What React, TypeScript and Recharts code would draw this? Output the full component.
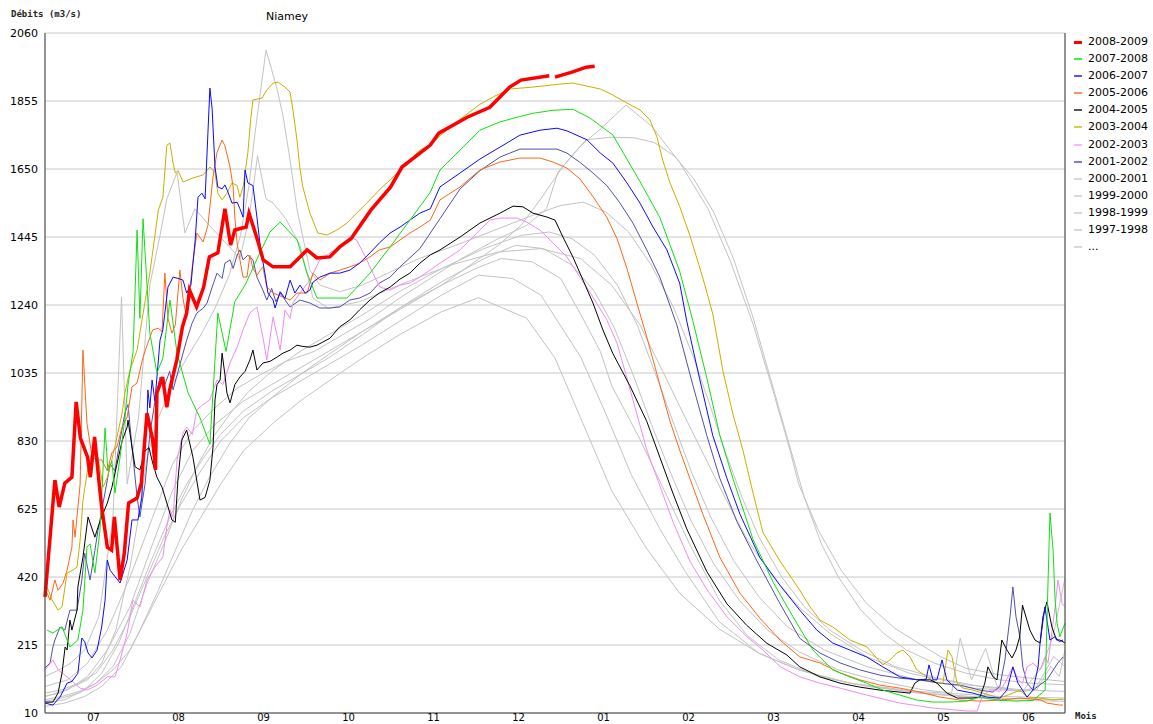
import React from "react";
import { CartesianGrid, Line, LineChart, XAxis, YAxis } from "recharts";

// day of hydrological year (30-day months, 0 = 1 July) / discharge m3/s
type Pt = [number, number | null];

const monthLabels = ["07", "08", "09", "10", "11", "12", "01", "02", "03", "04", "05", "06"];
const monthBounds = [0, 30, 60, 90, 120, 150, 180, 210, 240, 270, 300, 330, 360];
const monthMids = [15, 45, 75, 105, 135, 165, 195, 225, 255, 285, 315, 345];
const yTicks = [10, 215, 420, 625, 830, 1035, 1240, 1445, 1650, 1855, 2060];

const q2008: Pt[] = [
  [0, 360], [3.5, 712], [5, 631], [7, 703], [9.5, 721], [11, 948], [12.5, 839], [15, 782], [16, 721],
  [17.5, 842], [19, 712], [20, 631], [22, 510], [23.5, 501], [24.5, 601], [26.5, 411], [28, 492],
  [29.5, 643], [32.5, 658], [34, 703], [36, 914], [38, 833], [39, 743], [39.5, 975], [41.5, 1023],
  [43, 932], [44, 984], [46.5, 1074], [48.5, 1174], [50, 1216], [51, 1285], [53.5, 1234], [56, 1294],
  [58, 1385], [61, 1397], [63.5, 1530], [65.5, 1421], [67, 1466], [71, 1475], [72, 1517], [75, 1436],
  [77, 1376], [80.5, 1355], [86.5, 1355], [92.5, 1406], [96, 1382], [100.5, 1385], [104, 1415],
  [108, 1440], [115, 1526], [122, 1596], [126, 1656], [136, 1722], [139, 1758], [149, 1806],
  [157, 1836], [164, 1897], [168, 1918], [178, 1931], [179, null], [180, 1927], [186, 1942],
  [191, 1957], [194, 1960],
];

const q2007: Pt[] = [
  [0.7, 260], [2.8, 251], [6, 270], [8.8, 209], [11.6, 230], [13.4, 320], [14.8, 510], [15.9, 520],
  [17.6, 432], [19.4, 560], [21.2, 869], [22.2, 740], [23.6, 770], [24.7, 673], [26.5, 782], [28.2, 900],
  [29.3, 1000], [31.1, 1100], [32.5, 1466], [33.5, 1200], [34.6, 1500], [36, 1300], [37, 1156],
  [39.5, 1035], [41.6, 1080], [44.1, 1255], [46.6, 1095], [50.5, 975], [54.7, 900], [58.2, 820],
  [61, 1216], [63.9, 1100], [67, 1250], [70.6, 1300], [76, 1400], [79.4, 1460], [83, 1490], [89, 1436],
  [92.5, 1336], [96, 1261], [106.6, 1261], [114.7, 1336], [121.8, 1415], [128.8, 1496], [136, 1580],
  [139.4, 1647], [146.5, 1707], [153.5, 1767], [160.6, 1792], [166.6, 1806], [172.2, 1818],
  [179.3, 1827], [186.3, 1830], [192.3, 1804], [200.4, 1753], [210, 1612], [217, 1504], [224, 1342],
  [228.7, 1191], [233.6, 1019], [238.2, 846], [242.8, 717], [249.9, 533], [257, 404], [264, 300],
  [271, 200], [278, 140], [284, 119], [290, 100], [295.7, 79], [301.7, 64], [307.7, 49], [313.4, 43],
  [319.4, 43], [325.4, 46], [330, 58], [337, 48], [343, 46], [348.7, 48], [353, 79], [354, 402],
  [354.7, 613], [355.8, 500], [356.5, 351], [357.2, 281], [358.2, 240], [360, 281],
];

const q2006: Pt[] = [
  [0, 40], [2.8, 34], [5.3, 58], [7.8, 100], [9.5, 105], [11.6, 130], [13, 236], [14, 225], [15.2, 191],
  [16.6, 176], [18.4, 200], [20, 269], [21.2, 350], [22, 471], [23, 440], [26.5, 402], [29, 471],
  [30.7, 592], [32.8, 592], [34.2, 661], [34.6, 773], [36, 884], [36.3, 984], [37, 930], [37.8, 1014],
  [38.8, 950], [40.6, 1134], [41.6, 1165], [43.4, 1294], [45.2, 1324], [47, 1320], [48.7, 1315],
  [50, 1276], [51.5, 1300], [53, 1436], [54, 1565], [55.4, 1577], [56.5, 1560], [57.5, 1758],
  [58.2, 1894], [59, 1830], [59.3, 1776], [60, 1656], [61, 1596], [62.5, 1590], [63.5, 1602],
  [64.6, 1580], [66, 1547], [67.8, 1550], [68.8, 1530], [69.9, 1505], [70.6, 1647], [71.6, 1608],
  [73.4, 1600], [74.8, 1505], [76, 1415], [77.6, 1336], [78.7, 1276], [80.5, 1255], [81.2, 1231],
  [83, 1280], [84.7, 1260], [86.5, 1315], [88.2, 1276], [90, 1300], [91.8, 1276], [93.5, 1285],
  [94.6, 1309], [97, 1324], [100.6, 1336], [104, 1336], [107.6, 1345], [111, 1366], [114.7, 1397],
  [118, 1427], [121.8, 1457], [125.3, 1475], [128.8, 1496], [132.3, 1517], [136, 1530], [139.4, 1596],
  [146.5, 1638], [153.5, 1680], [160.6, 1716], [167.6, 1752], [174.7, 1767], [180.7, 1773],
  [184.2, 1765], [191.3, 1738], [196, 1698], [200.4, 1668], [205.4, 1608], [210, 1547], [214.6, 1475],
  [219.5, 1406], [224, 1306], [226.5, 1191], [231, 1019], [235.7, 846], [240.7, 717], [245.3, 609],
  [252.3, 479], [259.4, 395], [266.4, 320], [272.4, 260], [278, 221], [284, 200], [290, 179],
  [295.7, 149], [301.7, 119], [307.7, 110], [311, 112], [312, 155], [313.4, 110], [314.8, 110],
  [316.6, 170], [318.3, 110], [322, 79], [327.5, 70], [332.4, 58], [337, 55], [339.5, 79], [341.6, 149],
  [343.4, 100], [346.6, 58], [348.7, 79], [350.5, 149], [351.2, 221], [352.9, 330], [354.7, 230],
  [356.5, 240], [358, 225], [359.3, 230],
];

const q2005: Pt[] = [
  [0.7, 372], [1.8, 350], [3.5, 411], [4.6, 380], [6.4, 402], [7.8, 441], [9.5, 510], [9.9, 592],
  [10.6, 540], [12.4, 700], [13.4, 1104], [14.8, 884], [16.6, 782], [18.4, 773], [20, 773], [22, 740],
  [23.6, 794], [25.4, 812], [27.2, 872], [29, 902], [30.7, 993], [32.5, 1005], [34.6, 1083],
  [36.3, 1125], [38, 1165], [40, 1170], [41.3, 1160], [42.3, 1336], [43.4, 1200], [44.8, 1155],
  [46, 1180], [47.6, 1345], [48.7, 1260], [50, 1200], [51.9, 1350], [53.6, 1457], [55.8, 1430],
  [57.5, 1480], [59.3, 1626], [60.7, 1700], [62.5, 1737], [63.5, 1720], [65.3, 1656], [66.4, 1596],
  [67, 1505], [67.8, 1427], [68.8, 1376], [69.9, 1324], [71.3, 1324], [72.3, 1390], [73.4, 1350],
  [74.8, 1330], [76.9, 1355], [78.3, 1294], [80.5, 1276], [84, 1264], [86.5, 1255], [88.9, 1276],
  [92.5, 1276], [94.6, 1336], [97, 1315], [100.6, 1336], [104, 1345], [107.6, 1355], [111, 1366],
  [114.7, 1385], [118, 1406], [121.8, 1415], [125.3, 1436], [128.8, 1457], [132.3, 1475], [136, 1496],
  [139.4, 1557], [146.5, 1596], [153.5, 1647], [160.6, 1671], [167.6, 1683], [174.7, 1683],
  [179.3, 1671], [184.2, 1653], [188.8, 1620], [193.4, 1567], [198.3, 1504], [201.9, 1440],
  [205.4, 1350], [208.9, 1246], [212.4, 1143], [217, 1000], [220.6, 889], [224, 803], [227.6, 717],
  [232.2, 609], [238.2, 479], [245.3, 371], [252.3, 296], [259.4, 230], [266.4, 179], [273.5, 161],
  [280.6, 131], [287.6, 110], [294.7, 94], [301.7, 85], [308.8, 73], [315.9, 58], [322.9, 49], [330, 46],
  [337, 49], [344, 55], [351.2, 50], [353.6, 40], [358, 34], [359.3, 34],
];

const q2004: Pt[] = [
  [0, 43], [2.8, 43], [4.6, 70], [6, 130], [7.1, 209], [7.8, 200], [8.8, 290], [9.5, 260], [11.3, 320],
  [11.6, 390], [13.4, 480], [15.2, 601], [17.6, 540], [18.7, 570], [20, 601], [22, 643], [23.6, 690],
  [25.4, 760], [27.2, 830], [29, 872], [29.3, 893], [30.7, 812], [31.8, 752], [33.5, 743], [35.3, 800],
  [36.7, 810], [38, 764], [39.5, 721], [41.3, 691], [43, 643], [44.8, 592], [46, 585], [46.9, 712],
  [48.3, 833], [50, 863], [52.2, 782], [54.7, 652], [56.5, 660], [58.2, 712], [59.3, 812], [60, 954],
  [60.7, 1000], [61.8, 1014], [62.5, 1095], [63.5, 1030], [64.2, 975], [65.3, 945], [67, 1000],
  [68.8, 1023], [70.6, 1040], [72.3, 1074], [73.4, 1104], [74.8, 1044], [76.9, 1065], [79.4, 1070],
  [81.9, 1083], [84, 1095], [86.5, 1104], [88.9, 1119], [91, 1115], [93.5, 1113], [96, 1119],
  [98, 1128], [100.6, 1140], [104, 1174], [107.6, 1195], [111, 1225], [114.7, 1255], [118, 1276],
  [121.8, 1294], [125.3, 1318], [128.8, 1336], [132.3, 1366], [136, 1391], [139.4, 1406],
  [146.5, 1445], [153.5, 1487], [160.6, 1517], [165.2, 1538], [168.7, 1536], [172.2, 1517],
  [177.2, 1505], [180, 1496], [182.8, 1445], [186.3, 1385], [189.9, 1315], [193.4, 1246],
  [196.9, 1165], [200.4, 1094], [206.4, 997], [212.4, 889], [217, 781], [221.6, 673], [226.5, 565],
  [233.6, 436], [240.7, 339], [247.7, 274], [254.8, 220], [261.8, 185], [266.4, 149], [273.5, 119],
  [280.6, 100], [287.6, 88], [294.7, 79], [301.7, 73], [305.3, 70], [307, 100], [308.8, 110],
  [312.4, 110], [314.8, 100], [318.3, 70], [322, 55], [327.5, 55], [330, 58], [331.7, 100], [332.8, 149],
  [334.6, 119], [336, 110], [337.7, 230], [339.5, 200], [341.3, 176], [342.7, 200], [344, 239],
  [345, 335], [347.6, 260], [349.4, 230], [351.2, 221], [352.2, 299], [353.6, 345], [355.4, 269],
  [357, 230], [358.2, 230], [360, 221],
];

const q2003: Pt[] = [
  [0.7, 390], [2.5, 351], [4.6, 320], [6, 330], [7.8, 432], [9.9, 441], [11.3, 450], [12.4, 531],
  [13.4, 652], [15.2, 752], [16.9, 803], [18.7, 780], [20.5, 691], [22, 720], [23.6, 773], [25.4, 842],
  [27.2, 914], [28.2, 975], [30, 1044], [32.5, 1104], [35.3, 1250], [37, 1336], [38.8, 1450],
  [40, 1526], [41.6, 1565], [43, 1722], [44.1, 1728], [45.2, 1668], [46, 1638], [47, 1645],
  [48.7, 1611], [52.2, 1623], [55.8, 1632], [58.2, 1656], [60, 1640], [61, 1577], [62.5, 1557],
  [64.2, 1577], [66, 1608], [67.8, 1600], [68.8, 1565], [70, 1600], [71.6, 1700], [72.6, 1800],
  [73.4, 1858], [76.6, 1864], [78.3, 1888], [80.5, 1909], [82.2, 1912], [84.7, 1897], [86.5, 1882],
  [87.5, 1828], [88.9, 1740], [90, 1650], [91, 1596], [93.5, 1517], [96.3, 1457], [99.5, 1451],
  [103, 1466], [106.6, 1487], [110, 1517], [114.7, 1557], [118, 1587], [121.8, 1617], [125.3, 1647],
  [128.8, 1677], [132.3, 1707], [136, 1722], [139.4, 1750], [146.5, 1800], [153.5, 1845],
  [158.8, 1870], [164, 1891], [172.2, 1897], [181.7, 1906], [186.3, 1909], [191.3, 1900], [196, 1891],
  [200.4, 1873], [205.4, 1849], [210, 1828], [213.5, 1798], [216, 1746], [218, 1677], [220.6, 1608],
  [224, 1537], [227.6, 1450], [232.2, 1321], [235.7, 1213], [239.3, 1040], [242.8, 911], [246.3, 803],
  [249.9, 673], [253.4, 554], [259.4, 468], [266.4, 380], [270, 330], [273.5, 290], [278.1, 269],
  [284.1, 230], [290.1, 209], [295.7, 155], [298.2, 170], [300.7, 191], [302.8, 200], [305.3, 179],
  [307.7, 140], [311.3, 119], [314.8, 100], [316.9, 100], [318.7, 200], [320.1, 180], [321.9, 100],
  [324, 85], [327.5, 79], [337, 55], [341.6, 70], [344.1, 79], [346.6, 58], [351.2, 55], [355.8, 49],
  [359.3, 52],
];

const q2002: Pt[] = [
  [0, 140], [1, 150], [2.8, 170], [4.6, 140], [7.8, 119], [12.4, 85], [14.8, 79], [18.4, 94], [22, 119],
  [24.7, 119], [26.5, 170], [29, 251], [31, 350], [33.5, 330], [36, 411], [38.8, 450], [41.6, 480],
  [43, 571], [44.1, 622], [45.2, 600], [46.6, 773], [48.7, 854], [50, 872], [52, 850], [53.6, 924],
  [55.8, 940], [58.2, 954], [60.7, 1014], [62.8, 1000], [65.3, 1065], [67.8, 1113], [69.9, 1165],
  [72.3, 1216], [74.8, 1234], [76.9, 1143], [78.3, 1074], [80.5, 1204], [83, 1104], [84.7, 1225],
  [86.5, 1200], [87.5, 1246], [90, 1276], [93.5, 1315], [97, 1376], [100.6, 1397], [104, 1415],
  [107.6, 1445], [110, 1436], [113.6, 1376], [115.7, 1336], [118.2, 1294], [121.8, 1285],
  [125.3, 1300], [128.8, 1306], [132.3, 1324], [139.4, 1366], [146.5, 1406], [153.5, 1466],
  [157, 1496], [160.6, 1502], [166.6, 1502], [170, 1490], [174.7, 1466], [179.3, 1427], [184.2, 1385],
  [188.8, 1324], [193.4, 1264], [198.3, 1195], [201.9, 1125], [205.4, 1019], [208.9, 911],
  [212.4, 803], [217, 695], [221.6, 587], [227.6, 468], [233.6, 382], [240.7, 300], [247.7, 240],
  [253.4, 200], [259.4, 150], [266.4, 119], [273.5, 100], [280.6, 85], [290, 64], [301.7, 40],
  [313.4, 25], [325.4, 16], [329, 16], [330.7, 58], [333.5, 80], [337, 75], [338.8, 100], [341.6, 149],
  [343.4, 110], [345, 100], [346.6, 149], [348.7, 160], [351.2, 140], [353, 180], [354, 160],
  [356.5, 330], [357.5, 411], [359, 340], [360, 330],
];

const q2001: Pt[] = [
  [0, 146], [1.8, 161], [2.8, 209], [3.5, 230], [5.3, 269], [7, 260], [8.8, 320], [11.3, 320],
  [13, 411], [14, 492], [15.9, 411], [17.6, 500], [18.7, 560], [20, 620], [22, 712], [23, 760],
  [24.7, 740], [26.5, 833], [28.2, 914], [29.3, 940], [30.7, 812], [32.5, 661], [33.5, 601], [35.3, 700],
  [37, 850], [38.8, 950], [40.6, 1023], [42.3, 1000], [44, 1040], [45.2, 984], [47.6, 1060], [50, 1134],
  [51.9, 1185], [53.6, 1216], [55.8, 1230], [57.2, 1246], [59, 1294], [60.7, 1336], [62.5, 1320],
  [63.5, 1366], [65.3, 1376], [66.4, 1350], [67.8, 1390], [68.8, 1406], [69.9, 1376], [71.6, 1390],
  [73.4, 1376], [74.8, 1324], [76.9, 1285], [78.3, 1255], [80, 1290], [81.5, 1250], [83, 1276],
  [86.5, 1234], [90, 1255], [93.5, 1246], [97, 1231], [100.6, 1231], [104, 1234], [107.6, 1255],
  [111, 1261], [114.7, 1276], [118, 1306], [121.8, 1324], [125.3, 1355], [132.3, 1410], [139.4, 1500],
  [146.5, 1590], [153.5, 1645], [160.6, 1686], [167.6, 1710], [174.7, 1710], [180.7, 1710],
  [184.2, 1698], [188.8, 1670], [193.4, 1638], [198.3, 1600], [202.9, 1548], [207.5, 1487],
  [212.4, 1406], [217, 1324], [223, 1180], [228.7, 997], [233.6, 846], [238.2, 717], [244.2, 587],
  [251.3, 468], [259.4, 340], [266.4, 235], [273.5, 191], [280.6, 161], [287.6, 140], [294.7, 124],
  [301.7, 115], [308.8, 110], [315.9, 100], [322.9, 94], [330, 79], [334.6, 73], [337, 90],
  [338.8, 170], [340.6, 300], [341.6, 390], [342.7, 300], [344.1, 239], [345.1, 149], [346.6, 100],
  [348.7, 79], [351.2, 95], [353.6, 110], [357.5, 161], [359.3, 179],
];

const q2000: Pt[] = [
  [0, 90], [8, 110], [15, 160], [22, 260], [30, 420], [38, 600], [45, 760], [52, 860], [60, 930],
  [68, 990], [76, 1030], [85, 1070], [95, 1100], [105, 1150], [115, 1200], [125, 1260], [136, 1320],
  [147, 1380], [160, 1440], [170, 1480], [177, 1530], [181, 1640], [189, 1720], [196, 1770],
  [205, 1843], [214, 1780], [224, 1670], [234, 1530], [242, 1370], [250, 1180], [257, 980], [263, 800],
  [266, 700], [273, 560], [281, 440], [290, 340], [300, 265], [308, 222], [316, 180], [325, 145],
  [337, 125], [348, 115], [360, 105],
];

const q1999: Pt[] = [
  [0, 60], [8, 80], [15, 120], [22, 200], [30, 330], [38, 520], [45, 680], [52, 800], [60, 880],
  [70, 950], [80, 1000], [90, 1050], [100, 1100], [110, 1150], [120, 1200], [130, 1250], [140, 1300],
  [150, 1360], [160, 1420], [168, 1480], [175, 1560], [183, 1660], [191, 1738], [200, 1746],
  [208, 1744], [215, 1730], [222, 1690], [229, 1620], [236, 1520], [243, 1380], [250, 1200],
  [256, 1020], [262, 840], [268, 660], [274, 520], [280, 420], [288, 320], [296, 250], [304, 200],
  [314, 160], [325, 130], [337, 110], [348, 100], [360, 95],
];

const q1998: Pt[] = [
  [0, 60], [5, 70], [10, 90], [15, 110], [20, 160], [25, 260], [30, 450], [33, 600], [36, 780],
  [40, 900], [45, 1000], [50, 1080], [55, 1150], [60, 1230], [65, 1330], [69, 1450], [72, 1600],
  [74, 1750], [76, 1880], [78, 2009], [80, 1950], [82, 1888], [84, 1810], [86.5, 1677], [89, 1526],
  [91, 1445], [93.5, 1345], [97, 1300], [104, 1280], [112, 1300], [122, 1340], [132, 1380],
  [145, 1420], [160, 1470], [172, 1510], [182, 1540], [190, 1550], [198, 1520], [206, 1460],
  [214, 1360], [222, 1230], [229, 1080], [235, 930], [240, 800], [246, 660], [252, 540], [260, 420],
  [268, 330], [277, 260], [288, 200], [300, 150], [315, 115], [330, 90], [345, 75], [350, 80],
  [355, 150], [358, 120], [360, 200],
];

const q1997: Pt[] = [
  [0, 120], [5, 140], [9, 160], [14, 200], [19, 300], [24, 600], [27, 1264], [29, 700], [33, 900],
  [37, 1300], [40.6, 1450], [43, 1560], [46.6, 1640], [49.4, 1457], [52.9, 1530], [58, 1480],
  [63.5, 1430], [68.8, 1380], [72, 1500], [75, 1690], [78, 1560], [80.5, 1547], [85, 1500], [90, 1420],
  [94.6, 1260], [100, 1230], [111, 1250], [125, 1300], [143, 1360], [160, 1400], [175, 1410],
  [189, 1380], [200, 1300], [210, 1180], [218, 1040], [226, 900], [233, 780], [240, 660], [248, 530],
  [257, 420], [266, 330], [277, 250], [290, 180], [305, 130], [325, 95], [345, 80], [360, 75],
];

const qOlderA: Pt[] = [
  [0, 50], [6, 60], [12, 75], [18, 100], [24, 150], [30, 250], [36, 400], [42, 520], [48, 650],
  [54, 760], [60, 850], [66, 920], [72, 980], [80, 1040], [90, 1100], [100, 1150], [112, 1210],
  [125, 1280], [140, 1350], [155, 1410], [168, 1450], [178, 1460], [186, 1440], [194, 1390],
  [202, 1300], [209, 1180], [216, 1020], [222, 880], [228, 740], [235, 600], [243, 470], [252, 360],
  [262, 270], [275, 200], [290, 150], [308, 110], [328, 85], [345, 75], [350, 90], [356, 180],
  [360, 150],
];

const qOlderB: Pt[] = [
  [0, 40], [7, 50], [14, 80], [20, 130], [26, 220], [32, 350], [38, 480], [44, 600], [50, 700],
  [56, 780], [62, 850], [70, 920], [80, 980], [90, 1030], [100, 1080], [112, 1150], [125, 1230],
  [140, 1310], [155, 1380], [166, 1420], [176, 1410], [186, 1360], [194, 1280], [201, 1170],
  [208, 1020], [214, 880], [221, 730], [228, 590], [236, 460], [245, 350], [255, 260], [266, 195],
  [280, 140], [295, 105], [310, 80], [320, 70], [323, 236], [327, 110], [332, 205], [336, 90],
  [345, 75], [352, 150], [356, 250], [360, 417],
];

const qOlderC: Pt[] = [
  [0, 30], [7, 40], [14, 60], [20, 90], [27, 150], [33, 250], [40, 380], [46, 500], [52, 620],
  [58, 720], [65, 820], [72, 900], [80, 960], [90, 1030], [100, 1090], [112, 1160], [125, 1230],
  [140, 1300], [152, 1350], [161, 1380], [172, 1370], [182, 1320], [189, 1213], [196, 1100],
  [200, 997], [210, 835], [219, 673], [228, 511], [238, 350], [248, 242], [259, 170], [273, 120],
  [290, 90], [310, 70], [335, 55], [360, 50],
];

const qOlderD: Pt[] = [
  [0, 70], [6, 80], [12, 100], [18, 130], [24, 200], [30, 300], [36, 420], [42, 540], [48, 640],
  [55, 740], [62, 830], [70, 900], [80, 960], [90, 1010], [100, 1060], [112, 1120], [125, 1190],
  [140, 1270], [153, 1330], [165, 1320], [175, 1270], [189, 1084], [198, 911], [207, 727], [217, 565],
  [226, 436], [238, 285], [252, 190], [266, 140], [284, 100], [308, 75], [337, 60], [360, 55],
];

const qOlderE: Pt[] = [
  [0, 45], [6, 55], [12, 70], [18, 100], [24, 140], [30, 200], [36, 300], [42, 400], [48, 500],
  [55, 600], [62, 700], [70, 800], [80, 880], [90, 950], [100, 1010], [112, 1080], [125, 1150],
  [140, 1220], [153, 1262], [170, 1200], [180, 1080], [189, 900], [200, 680], [212, 510], [224, 371],
  [238, 263], [252, 190], [266, 140], [284, 100], [308, 70], [337, 50], [360, 45],
];

const GREY = "#c3c3c3";

type Serie = { key: string; data: Pt[]; color: string; width: number };

// drawing order: oldest first, current year on top
const series: Serie[] = [
  { key: "older-e", data: qOlderE, color: GREY, width: 1 },
  { key: "older-d", data: qOlderD, color: GREY, width: 1 },
  { key: "older-c", data: qOlderC, color: GREY, width: 1 },
  { key: "older-b", data: qOlderB, color: GREY, width: 1 },
  { key: "older-a", data: qOlderA, color: GREY, width: 1 },
  { key: "1997-1998", data: q1997, color: GREY, width: 1 },
  { key: "1998-1999", data: q1998, color: GREY, width: 1 },
  { key: "1999-2000", data: q1999, color: GREY, width: 1 },
  { key: "2000-2001", data: q2000, color: GREY, width: 1 },
  { key: "2001-2002", data: q2001, color: "#5050a8", width: 1 },
  { key: "2002-2003", data: q2002, color: "#f08cf0", width: 1 },
  { key: "2003-2004", data: q2003, color: "#c8b000", width: 1 },
  { key: "2004-2005", data: q2004, color: "#000000", width: 1 },
  { key: "2005-2006", data: q2005, color: "#ff6619", width: 1 },
  { key: "2006-2007", data: q2006, color: "#0a0aff", width: 1 },
  { key: "2007-2008", data: q2007, color: "#11e011", width: 1 },
  { key: "2008-2009", data: q2008, color: "#ff0000", width: 3.5 },
];

const legendItems = [
  { label: "2008-2009", color: "#ff0000", h: 3 },
  { label: "2007-2008", color: "#44ee44", h: 2 },
  { label: "2006-2007", color: "#5555ff", h: 2 },
  { label: "2005-2006", color: "#ff9060", h: 2 },
  { label: "2004-2005", color: "#555555", h: 2 },
  { label: "2003-2004", color: "#d8d050", h: 2 },
  { label: "2002-2003", color: "#f8b8f8", h: 2 },
  { label: "2001-2002", color: "#8080c0", h: 2 },
  { label: "2000-2001", color: "#d8d8d8", h: 2 },
  { label: "1999-2000", color: "#d8d8d8", h: 2 },
  { label: "1998-1999", color: "#d8d8d8", h: 2 },
  { label: "1997-1998", color: "#d8d8d8", h: 2 },
  { label: "...", color: "#d8d8d8", h: 2 },
];

const toRows = (pts: Pt[]) => pts.map(([d, v]) => ({ d, v }));

const font = "'DejaVu Sans', Verdana, sans-serif";
const mono = "'DejaVu Sans Mono', monospace";

export default function App() {
  return (
    <div style={{ position: "absolute", left: 0, top: 0, width: 1153, height: 724, background: "#fff" }}>
      <LineChart width={1153} height={724} margin={{ top: 33, right: 83, bottom: 0, left: 0 }}>
        <CartesianGrid xAxisId="top" yAxisId="left" stroke="#c8c8c8" strokeWidth={1} />
        <XAxis
          xAxisId="top"
          orientation="top"
          type="number"
          dataKey="d"
          domain={[0, 360]}
          ticks={monthBounds}
          interval={0}
          height={0}
          tick={false}
          tickSize={3}
          tickLine={{ stroke: "#444" }}
          axisLine={{ stroke: "#444" }}
        />
        <XAxis
          xAxisId="bottom"
          type="number"
          dataKey="d"
          domain={[0, 360]}
          ticks={monthMids}
          interval={0}
          height={11}
          tickLine={false}
          tickSize={0}
          tickMargin={1}
          tickFormatter={(v: number) => monthLabels[Math.floor(v / 30)]}
          tick={{ fontSize: 10, fill: "#000", fontFamily: font, dx: 6 }}
          axisLine={{ stroke: "#444" }}
        />
        <YAxis
          yAxisId="left"
          type="number"
          domain={[10, 2060]}
          ticks={yTicks}
          interval={0}
          width={45}
          tickLine={false}
          tickSize={4}
          tickMargin={3}
          tick={{ fontSize: 11, fill: "#000", fontFamily: font }}
          axisLine={{ stroke: "#444" }}
        />
        <YAxis
          yAxisId="right"
          orientation="right"
          type="number"
          domain={[10, 2060]}
          ticks={yTicks}
          interval={0}
          width={5}
          tick={false}
          tickSize={3}
          tickLine={{ stroke: "#444" }}
          axisLine={{ stroke: "#444" }}
        />
        {series.map((s) => (
          <Line
            key={s.key}
            xAxisId="bottom"
            yAxisId="left"
            data={toRows(s.data)}
            dataKey="v"
            type="linear"
            stroke={s.color}
            strokeWidth={s.width}
            dot={false}
            activeDot={false}
            connectNulls={false}
            isAnimationActive={false}
          />
        ))}
      </LineChart>

      <div style={{ position: "absolute", left: 11, top: 9, fontFamily: mono, fontSize: 9, fontWeight: "bold", color: "#222" }}>
        Débits (m3/s)
      </div>
      <div style={{ position: "absolute", left: 266, top: 10, fontFamily: font, fontSize: 11, color: "#000" }}>
        Niamey
      </div>
      <div style={{ position: "absolute", left: 1075, top: 711, fontFamily: mono, fontSize: 9, fontWeight: "bold", color: "#222" }}>
        Mois
      </div>

      <div style={{ position: "absolute", left: 1074, top: 34 }}>
        {legendItems.map((it) => (
          <div key={it.label} style={{ position: "relative", height: 17.1, width: 79 }}>
            <div
              style={{
                position: "absolute",
                left: 0,
                top: 8 - it.h / 2,
                width: 8,
                height: it.h,
                background: it.color,
              }}
            />
            <div
              style={{
                position: "absolute",
                left: 14,
                top: 1,
                fontFamily: font,
                fontSize: 11,
                lineHeight: "14px",
                color: "#000",
                whiteSpace: "nowrap",
              }}
            >
              {it.label}
            </div>
          </div>
        ))}
      </div>
    </div>
  );
}
